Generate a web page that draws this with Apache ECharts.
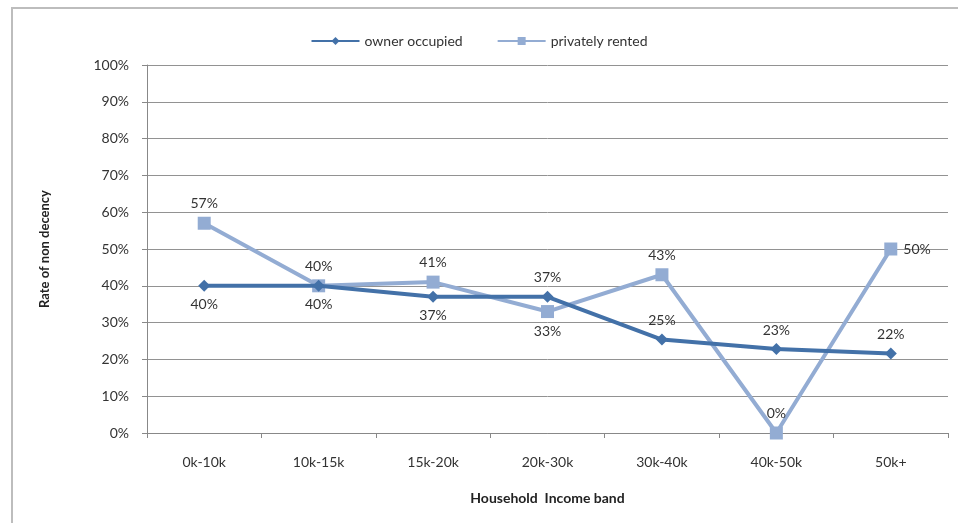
<!DOCTYPE html>
<html><head><meta charset="utf-8">
<script src="https://cdn.jsdelivr.net/npm/echarts@6/dist/echarts.min.js"></script>
<style>html,body{margin:0;padding:0;background:#fff}#c{width:958px;height:523px;position:relative}
#frame{position:absolute;left:11px;top:7px;width:960px;height:530px;border:2px solid #bdbdbd;box-sizing:border-box;pointer-events:none}</style>
</head><body><div id="c"></div><div id="frame"></div>
<script>
const categories = ['0k-10k','10k-15k','15k-20k','20k-30k','30k-40k','40k-50k','50k+'];
const ownerOccupied = [40, 40, 37, 37, 25.4, 22.8, 21.6];
const privatelyRented = [57, 40, 41, 33, 43, 0, 50];
const ownerLabelPos = ['bottom','bottom','bottom','top','top','top','top'];
const privateLabelPos = ['top','top','top','bottom','top','top','right'];
const yTicks = [0,10,20,30,40,50,60,70,80,90,100];

const font = 'Lato, "Open Sans", sans-serif';
const chart = echarts.init(document.getElementById('c'));
const lbl = {show:true, fontFamily:font, fontSize:14, color:'#333', formatter: p => Math.round(p.value) + '%', distance:6};
chart.setOption({
  animation:false,
  textStyle:{fontFamily:font},
  legend:{top:29, left:'center', itemWidth:48, itemHeight:10, itemGap:34, textStyle:{fontSize:14, color:'#333', fontFamily:font},
    data:['owner occupied','privately rented']},
  grid:{left:147, right:10, top:65, bottom:90},
  xAxis:{type:'category', data:categories, boundaryGap:true,
    axisLine:{lineStyle:{color:'#888', width:1}},
    axisTick:{show:true, length:5, lineStyle:{color:'#888'}},
    axisLabel:{fontSize:14, color:'#333', fontFamily:font, margin:22},
    name:'Household  Income band', nameLocation:'middle', nameGap:58,
    nameTextStyle:{fontSize:14, fontWeight:'bold', color:'#222', fontFamily:font}},
  yAxis:{type:'value', min:0, max:100, interval:10,
    axisLine:{show:true, lineStyle:{color:'#888'}},
    axisTick:{show:true, length:5, inside:false, lineStyle:{color:'#888'}},
    splitLine:{lineStyle:{color:'#929292', width:1}},
    axisLabel:{fontSize:14, color:'#333', fontFamily:font, margin:18, formatter: v => v + '%'},
    name:'Rate of non decency', nameLocation:'middle', nameGap:96, nameRotate:90,
    nameTextStyle:{fontSize:13, fontWeight:'bold', color:'#222', fontFamily:font}},
  series:[
    {name:'owner occupied', type:'line', data: ownerOccupied.map((v,i)=>({value:v, label:{position:ownerLabelPos[i]}})),
     symbol:'diamond', symbolSize:12, lineStyle:{width:4, color:'#4371a8'}, itemStyle:{color:'#4371a8'},
     label:lbl, z:3},
    {name:'privately rented', type:'line', data: privatelyRented.map((v,i)=>({value:v, label:{position:privateLabelPos[i]}})),
     symbol:'rect', symbolSize:13, lineStyle:{width:4, color:'#93acd3'}, itemStyle:{color:'#93acd3'},
     label:lbl, z:2}
  ]
});
</script></body></html>
